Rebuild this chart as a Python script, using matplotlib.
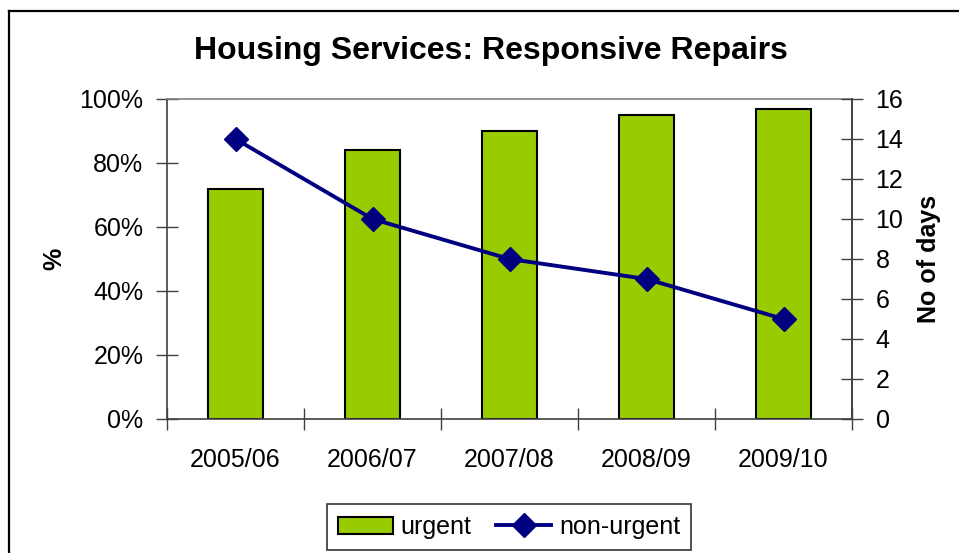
import matplotlib
matplotlib.use("Agg")
import matplotlib.pyplot as plt
from matplotlib.lines import Line2D
import numpy as np

plt.rcParams['font.family'] = ['Liberation Sans', 'DejaVu Sans']

categories = ["2005/06", "2006/07", "2007/08", "2008/09", "2009/10"]
urgent_pct = [72, 84, 90, 95, 97]
non_urgent_days = [14, 10, 8, 7, 5]
left_ticks = [0, 20, 40, 60, 80, 100]
left_labels = ["0%", "20%", "40%", "60%", "80%", "100%"]
right_ticks = [0, 2, 4, 6, 8, 10, 12, 14, 16]

W, H = 959, 553
fig = plt.figure(figsize=(W / 100, H / 100), dpi=100)

# figure border (left and top visible)
fig.add_artist(Line2D([9 / W, 9 / W], [0, 1 - 11 / H], transform=fig.transFigure, color='black', lw=1.6))
fig.add_artist(Line2D([9 / W, 1], [1 - 11 / H, 1 - 11 / H], transform=fig.transFigure, color='black', lw=1.6))

ax = fig.add_axes([167 / W, 1 - 419 / H, (852 - 167) / W, (419 - 99) / H])
x = np.arange(len(categories))
green = '#99CC00'
navy = '#000080'
ax.bar(x, urgent_pct, width=0.4, color=green, edgecolor='black', linewidth=1.5, zorder=2)
ax.set_xlim(-0.5, len(categories) - 0.5)
ax.set_ylim(0, 100)
ax.set_yticks(left_ticks)
ax.set_yticklabels(left_labels, fontsize=18)
ax.set_xticks(np.arange(-0.5, len(categories), 1.0))
ax.set_xticklabels([])
ax.set_xticks(x, minor=True)
ax.set_xticklabels(categories, minor=True, fontsize=18)
ax.tick_params(axis='x', which='minor', length=0, pad=21)
ax.tick_params(axis='x', which='major', direction='inout', length=16, width=1, color='#404040')
ax.tick_params(axis='y', direction='inout', length=16, width=1, color='#404040', pad=9)
ax.set_ylabel('%', fontsize=18, fontweight='bold')
ax.yaxis.set_label_coords((66 - 167) / (852 - 167), 0.5)
for s in ['left', 'bottom', 'right']:
    ax.spines[s].set_color('#404040')
    ax.spines[s].set_linewidth(1.2)
ax.spines['top'].set_color('#808080')
ax.spines['top'].set_linewidth(1.2)

ax2 = ax.twinx()
ax2.plot(x, non_urgent_days, color=navy, lw=2.8, marker='D', markersize=12, zorder=3)
ax2.set_ylim(0, 16)
ax2.set_yticks(right_ticks)
ax2.set_yticklabels([str(t) for t in right_ticks], fontsize=18)
ax2.tick_params(axis='y', direction='inout', length=16, width=1, color='#404040', pad=9)
ax2.set_ylabel('No of days', fontsize=18, fontweight='bold')
ax2.yaxis.set_label_coords((917 - 167) / (852 - 167), 0.5)
for s in ax2.spines.values():
    s.set_visible(False)
ax2.spines['right'].set_visible(True)
ax2.spines['right'].set_color('#404040')
ax2.spines['right'].set_linewidth(1.2)

fig.text(491 / W, 1 - 51 / H, 'Housing Services: Responsive Repairs', ha='center', va='center',
         fontsize=23, fontweight='bold')

handles = [plt.Rectangle((0, 0), 1, 1, facecolor=green, edgecolor='black', linewidth=1.5),
           Line2D([], [], color=navy, lw=2.8, marker='D', markersize=12)]
leg = fig.legend(handles, ['urgent', 'non-urgent'], loc='center', bbox_to_anchor=(509 / W, 1 - 527 / H),
                 ncol=2, fontsize=18, frameon=True, fancybox=False, edgecolor='black',
                 handlelength=2.2, handletextpad=0.3, columnspacing=1.0, borderpad=0.45)
leg.get_frame().set_linewidth(1.2)

fig.savefig('out.png', dpi=100)
